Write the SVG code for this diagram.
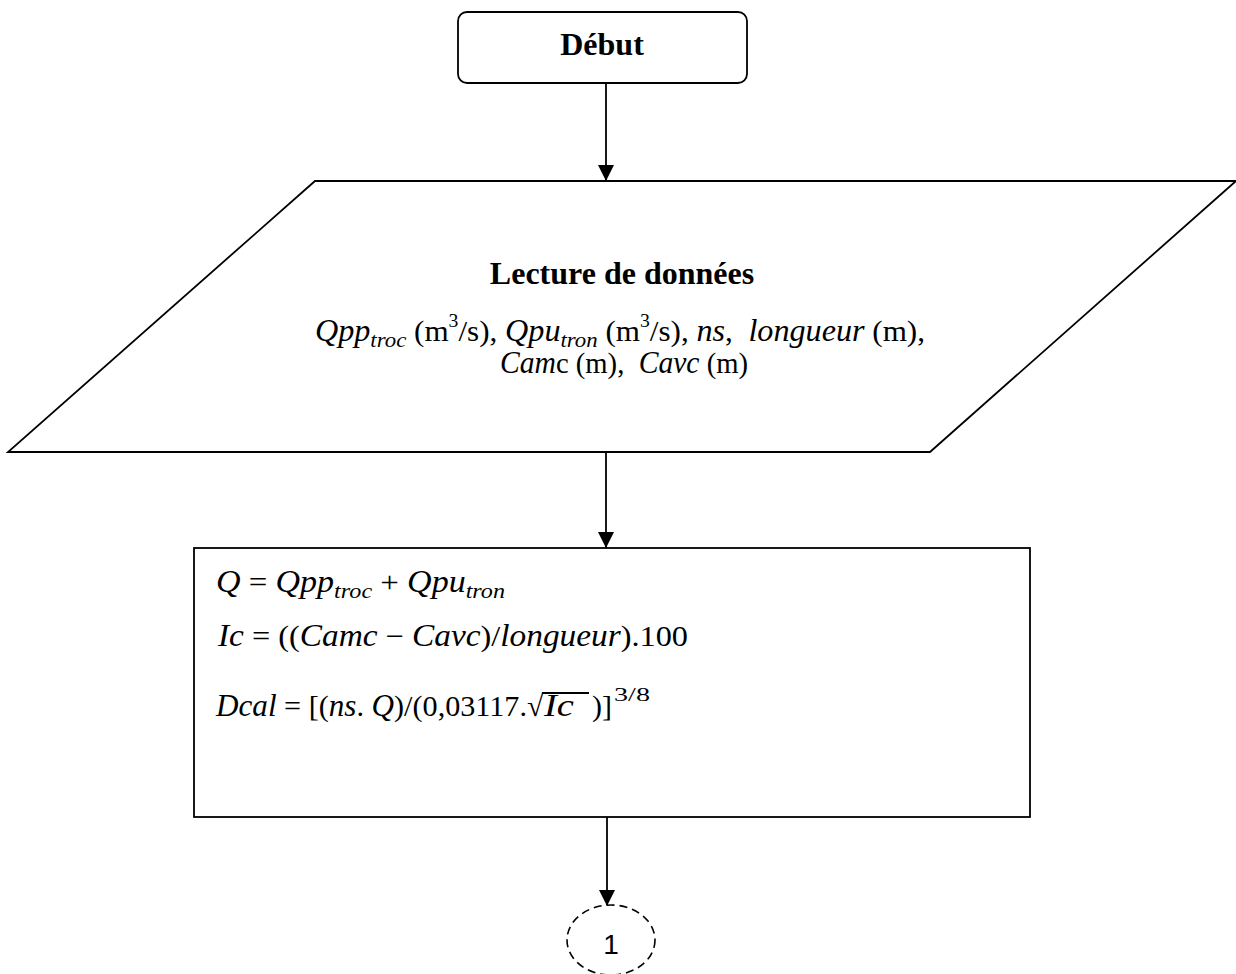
<svg xmlns="http://www.w3.org/2000/svg" width="1236" height="974" viewBox="0 0 1236 974">
<style>
.shape{fill:#fff;stroke:#000;stroke-width:1.8}
.ln{stroke:#000;stroke-width:1.8;fill:none}
.b{font-family:"Liberation Serif",serif;font-weight:bold;font-size:32px;fill:#000}
.t{font-family:"Liberation Serif",serif;font-size:30px;fill:#000}
.i{font-style:italic;font-size:31px}
.s{font-style:italic;font-size:22px}
.p{font-size:19px}
.num{font-family:"Liberation Sans",sans-serif;font-size:28px;fill:#000}
</style>
<defs>
<marker id="arr" markerUnits="userSpaceOnUse" markerWidth="16" markerHeight="16" refX="16" refY="8" orient="auto">
<path d="M0,0 L16,8 L0,16 Z" fill="#000"/>
</marker>
</defs>

<g id="connectors">
<line class="ln" x1="606" y1="83" x2="606" y2="181" marker-end="url(#arr)"/>
<line class="ln" x1="606" y1="452" x2="606" y2="548" marker-end="url(#arr)"/>
<line class="ln" x1="607" y1="817" x2="607" y2="906" marker-end="url(#arr)"/>
</g>

<g id="debut">
<rect class="shape" x="458" y="12" width="289" height="71" rx="9"/>
<text class="b" x="602" y="55" text-anchor="middle">Début</text>
</g>

<g id="lecture">
<polygon class="shape" points="315,181 1236,181 930,452 8,452"/>
<text class="b" x="622" y="284" text-anchor="middle">Lecture de données</text>
<text class="t" xml:space="preserve" x="315" y="341" textLength="610" lengthAdjust="spacingAndGlyphs"><tspan class="i">Qpp</tspan><tspan class="s" dy="6">troc</tspan><tspan dy="-6"> (m</tspan><tspan class="p" dy="-14">3</tspan><tspan dy="14">/s), </tspan><tspan class="i">Qpu</tspan><tspan class="s" dy="6">tron</tspan><tspan dy="-6"> (m</tspan><tspan class="p" dy="-14">3</tspan><tspan dy="14">/s), </tspan><tspan class="i">ns</tspan><tspan>,  </tspan><tspan class="i">longueur</tspan><tspan> (m),</tspan></text>
<text class="t" xml:space="preserve" x="500" y="373" textLength="248" lengthAdjust="spacingAndGlyphs"><tspan class="i">Cam</tspan><tspan>c (m),  </tspan><tspan class="i">Cavc</tspan><tspan> (m)</tspan></text>
</g>

<g id="calcul">
<rect class="shape" x="194" y="548" width="836" height="269"/>
<text class="t" xml:space="preserve" x="216" y="592" textLength="289" lengthAdjust="spacingAndGlyphs"><tspan class="i">Q</tspan><tspan> = </tspan><tspan class="i">Qpp</tspan><tspan class="s" dy="6">troc</tspan><tspan dy="-6"> + </tspan><tspan class="i">Qpu</tspan><tspan class="s" dy="6">tron</tspan></text>
<text class="t" xml:space="preserve" x="218" y="646" textLength="470" lengthAdjust="spacingAndGlyphs"><tspan class="i">Ic</tspan><tspan> = ((</tspan><tspan class="i">Camc</tspan><tspan> − </tspan><tspan class="i">Cavc</tspan><tspan>)/</tspan><tspan class="i">longueur</tspan><tspan>).100</tspan></text>
<text class="t" xml:space="preserve" x="216" y="716" textLength="311" lengthAdjust="spacingAndGlyphs"><tspan class="i">Dcal</tspan><tspan> = [(</tspan><tspan class="i">ns</tspan><tspan>. </tspan><tspan class="i">Q</tspan><tspan>)/(0,03117.</tspan></text>
<text class="t" x="527" y="716">√</text>
<line class="ln" x1="542" y1="693" x2="589" y2="693" stroke-width="1.5"/>
<text class="t i" x="544" y="716" textLength="30" lengthAdjust="spacingAndGlyphs">Ic</text>
<text class="t" x="592" y="716">)]</text>
<text class="t p" x="614" y="701" textLength="36" lengthAdjust="spacingAndGlyphs">3/8</text>
</g>

<g id="connecteur1">
<ellipse cx="611" cy="940" rx="44" ry="35" fill="#fff" stroke="#000" stroke-width="1.6" stroke-dasharray="8,5"/>
<text class="num" x="611" y="954" text-anchor="middle">1</text>
</g>
</svg>
